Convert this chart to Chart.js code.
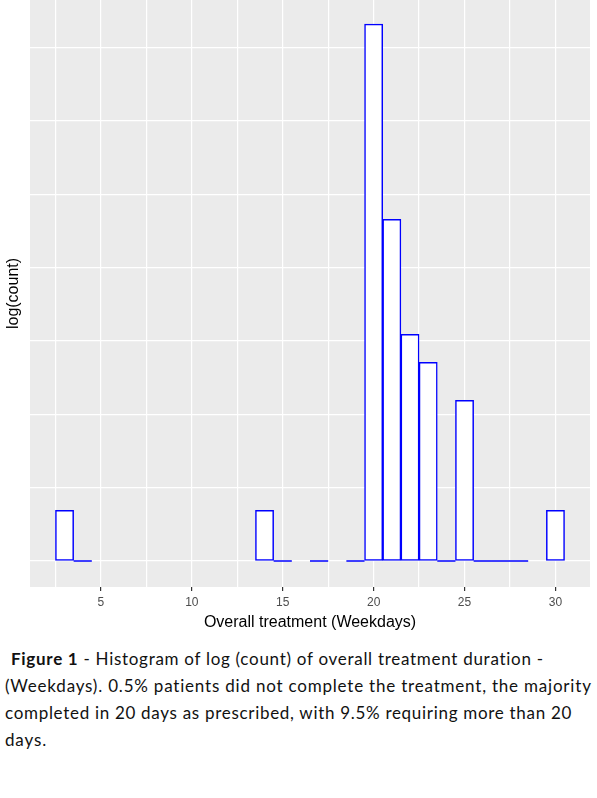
<!DOCTYPE html>
<html>
<head>
<meta charset="utf-8">
<script src="https://cdn.jsdelivr.net/npm/chart.js@4/dist/chart.umd.min.js"></script>
<style>
  html, body { margin: 0; padding: 0; background: #fff; }
  #wrap { position: relative; width: 597px; height: 798px; overflow: hidden; }
  #c { position: absolute; left: 0; top: 0; }
  .cap { position: absolute; left: 5px; white-space: nowrap; font-family: Lato, "Open Sans", sans-serif; font-size: 17px; color: #111; line-height: 1.2; }
</style>
</head>
<body>
<div id="wrap">
  <canvas id="c" width="597" height="640"></canvas>
  <div class="cap" data-w="533" style="top:649px;left:11px"><b>Figure 1</b> - Histogram of log (count) of overall treatment duration -</div>
  <div class="cap" data-w="587" style="top:676px">(Weekdays). 0.5% patients did not complete the treatment, the majority</div>
  <div class="cap" data-w="567" style="top:703px">completed in 20 days as prescribed, with 9.5% requiring more than 20</div>
  <div class="cap" data-w="42" style="top:730px">days.</div>
</div>
<script>
// Histogram bins (weekdays) and log(count)
const bins     = [3, 4, 14, 15, 17, 19, 20, 21, 22, 23, 24, 25, 26, 27, 28, 30];
const logCount = [0.69, 0, 0.69, 0, 0, 0, 7.32, 4.66, 3.09, 2.71, 0, 2.19, 0, 0, 0, 0.69];
const xTicks = [2.5, 5, 7.5, 10, 12.5, 15, 17.5, 20, 22.5, 25, 27.5, 30];
const xTickLabels = ['', '5', '', '10', '', '15', '', '20', '', '25', '', '30'];
const yGrid = [0, 1, 2, 3, 4, 5, 6, 7];

// fit caption lines to the reference widths
document.querySelectorAll('.cap').forEach(el => {
  const target = parseFloat(el.dataset.w);
  const n = el.textContent.length;
  const w = el.getBoundingClientRect().width;
  if (n > 1) el.style.letterSpacing = ((target - w) / n) + 'px';
});

const barData = [];
const zeroLine = [];
bins.forEach((b, i) => {
  if (logCount[i] > 0) {
    barData.push({ x: b, y: logCount[i] });
  } else {
    zeroLine.push({ x: b - 0.5, y: logCount[i] });
    zeroLine.push({ x: b + 0.5, y: logCount[i] });
    zeroLine.push({ x: b + 0.5, y: null });
  }
});

const panelBg = {
  id: 'panelBg',
  beforeDraw(chart) {
    const { ctx, chartArea: a } = chart;
    ctx.save();
    ctx.fillStyle = '#EBEBEB';
    ctx.fillRect(a.left, a.top, a.right - a.left, a.bottom - a.top);
    ctx.restore();
  }
};

new Chart(document.getElementById('c'), {
  type: 'bar',
  data: {
    datasets: [
      {
        type: 'bar',
        data: barData,
        backgroundColor: '#FFFFFF',
        borderColor: '#0000FF',
        borderWidth: 1.5,
        borderSkipped: false,
        barPercentage: 1,
        categoryPercentage: 1,
        grouped: false
      },
      {
        type: 'line',
        data: zeroLine,
        borderColor: '#0000FF',
        borderWidth: 1.5,
        pointRadius: 0,
        spanGaps: false,
        fill: false
      }
    ]
  },
  options: {
    responsive: false,
    animation: false,
    devicePixelRatio: 1,
    layout: { padding: { left: 0, right: 7, top: 0, bottom: 0 } },
    plugins: { legend: { display: false }, tooltip: { enabled: false } },
    scales: {
      x: {
        type: 'linear',
        min: 1.1,
        max: 31.9,
        offset: false,
        afterFit(s) { s.height = 53; },
        afterBuildTicks(s) { s.ticks = xTicks.map(v => ({ value: v })); },
        border: { display: false },
        grid: {
          offset: false,
          color: '#FFFFFF',
          lineWidth: 1.2,
          drawTicks: true,
          tickLength: 4,
          tickWidth: 1.2,
          tickColor: (ctx) => (ctx.tick && xTickLabels[xTicks.indexOf(ctx.tick.value)] !== '') ? '#333333' : 'rgba(0,0,0,0)'
        },
        ticks: {
          autoSkip: false,
          maxRotation: 0,
          padding: 4,
          color: '#4D4D4D',
          font: { family: 'Liberation Sans', size: 12 },
          callback: (v) => { const i = xTicks.indexOf(v); return i >= 0 ? xTickLabels[i] : ''; }
        },
        title: {
          display: true,
          text: 'Overall treatment (Weekdays)',
          color: '#000000',
          font: { family: 'Liberation Sans', size: 16 },
          padding: { top: 0, bottom: 8 }
        }
      },
      y: {
        type: 'linear',
        min: -0.355,
        max: 7.65,
        afterFit(s) { s.width = 30; },
        afterBuildTicks(s) { s.ticks = yGrid.map(v => ({ value: v })); },
        border: { display: false },
        grid: { color: '#FFFFFF', lineWidth: 1.2, drawTicks: false },
        ticks: { display: false },
        title: {
          display: true,
          text: 'log(count)',
          color: '#000000',
          font: { family: 'Liberation Sans', size: 16 },
          padding: { top: 4, bottom: 0 }
        }
      }
    }
  },
  plugins: [panelBg]
});
</script>
</body>
</html>
